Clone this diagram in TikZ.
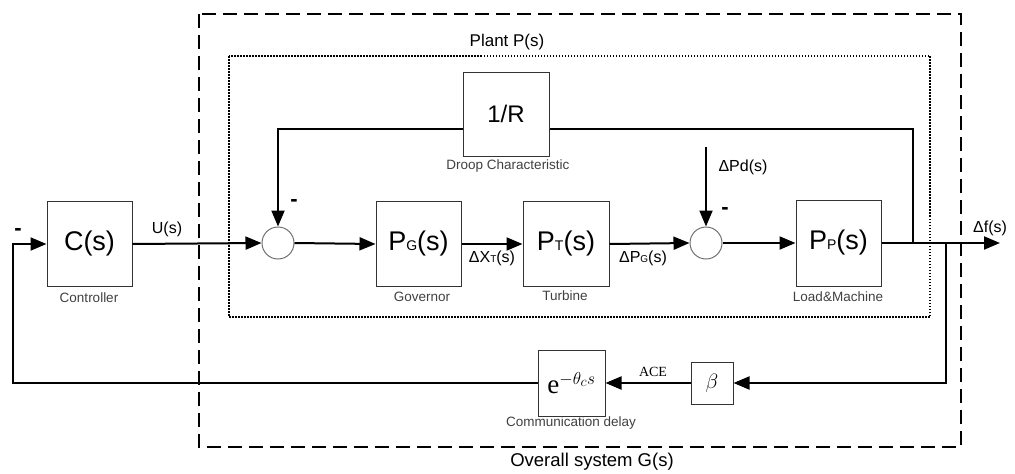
\documentclass[tikz,border=0pt]{standalone}
\usepackage{fontspec}
\usepackage{tikz}
\setmainfont{Liberation Sans}
\newfontfamily\tnr{Liberation Serif}
\usetikzlibrary{arrows.meta}
\definecolor{CBorder}{HTML}{333333}
\definecolor{CSum}{HTML}{707070}
\definecolor{CCapt}{HTML}{404040}
\newcommand\bigsub[1]{{\fontsize{14}{15}\selectfont #1}}
\newcommand\smallsub[1]{{\fontsize{10}{11}\selectfont #1}}

\begin{document}
\begin{tikzpicture}[inner sep=0pt,
  blk/.style={minimum height=85pt, minimum width=85pt, draw=CBorder, line width=1.0pt, shape=rectangle, font=\fontsize{27}{29}\selectfont},
  sumnode/.style={shape=circle, minimum size=32pt, draw=CSum, line width=1.0pt},
  lbl/.style={font=\fontsize{16}{18}\selectfont},
  minus/.style={font=\bfseries\fontsize{22}{24}\selectfont},
  capt/.style={font=\fontsize{13.5}{15}\selectfont, text=CCapt},
  wire/.style={line width=2.0pt},
  sig/.style={wire, -{Triangle[length=16pt,width=13pt]}}]
\useasboundingbox (0pt,0pt) rectangle (1015pt,-474pt);

% frames
\path [line width=2.0pt, dash pattern=on 14pt off 7pt, draw] (199pt,-14pt) rectangle (961pt,-447pt);
\path [line width=1.5pt, dash pattern=on 1.5pt off 1.5pt, draw] (229pt,-56pt) rectangle (930pt,-317pt);
\node (plant) [at={(507pt,-42pt)}, font=\fontsize{17}{19}\selectfont] {Plant P(s)};
\node (overall) [at={(592pt,-462pt)}, font=\fontsize{18.5}{20}\selectfont] {Overall system G(s)};

% blocks
\node (ctrl) [blk, at={(89.5pt,-244pt)}] {C(s)};
\node (gov) [blk, at={(418.5pt,-244pt)}] {P\bigsub{G}(s)};
\node (turb) [blk, minimum width=86pt, at={(566pt,-244pt)}] {P\bigsub{T}(s)};
\node (load) [blk, minimum height=86pt, at={(838.5pt,-243pt)}] {P\bigsub{P}(s)};
\node (droop) [blk, minimum width=86pt, minimum height=84pt, at={(506pt,-114pt)}, font=\fontsize{24}{26}\selectfont] {1/R};
\node (delay) [blk, minimum width=67pt, minimum height=66pt, at={(571.5pt,-383pt)}, font=\fontsize{27}{29}\tnr] {e$^{-\theta_{c} s}$};
\node (beta) [blk, minimum width=42pt, minimum height=42pt, at={(712pt,-383pt)}, font=\fontsize{22}{24}\selectfont] {$\beta$};
\node (sum1) [sumnode, at={(278pt,-243pt)}] {};
\node (sum2) [sumnode, at={(706pt,-243pt)}] {};

% captions
\node (cctrl) [capt, at={(89pt,-298pt)}] {Controller};
\node (cgov) [capt, at={(422pt,-297pt)}] {Governor};
\node (cturb) [capt, at={(565pt,-296pt)}] {Turbine};
\node (cload) [capt, at={(838pt,-297pt)}] {Load\&Machine};
\node (cdroop) [capt, at={(508pt,-166pt)}] {Droop Characteristic};
\node (cdelay) [capt, at={(571pt,-423pt)}] {Communication delay};

% signal labels
\node (lu) [lbl, at={(167pt,-229pt)}] {U(s)};
\node (lxt) [lbl, at={(492pt,-258pt)}] {ΔX\smallsub{T}(s)};
\node (lpg) [lbl, at={(643pt,-258pt)}] {ΔP\smallsub{G}(s)};
\node (lpd) [lbl, at={(743pt,-167pt)}] {ΔPd(s)};
\node (lf) [lbl, at={(990pt,-228pt)}] {Δf(s)};
\node (lace) [at={(653pt,-372pt)}, font=\fontsize{14}{15}\tnr] {ACE};
\node (m0) [minus, at={(18pt,-232pt)}] {-};
\node (m1) [minus, at={(294pt,-203pt)}] {-};
\node (m2) [minus, at={(725pt,-211pt)}] {-};

% free ends and corners
\coordinate (c0) at (13pt,-383pt);
\coordinate (r1) at (913pt,-129pt);
\coordinate (r2) at (278pt,-129pt);
\coordinate (b1) at (913pt,-243pt);
\coordinate (b2) at (946pt,-243pt);
\coordinate (d0) at (706pt,-147pt);
\coordinate (out) at (1000pt,-243pt);

% connectors
\path [sig, draw] (ctrl.east) -- (sum1.west);
\path [sig, draw] (sum1.east) -- (gov.west);
\path [sig, draw] (gov.east) -- (turb.west);
\path [sig, draw] (turb.east) -- (sum2.west);
\path [sig, draw] (sum2.east) -- (load.west);
\path [sig, draw] (load.east) -- (out);
\path [sig, draw] (d0) -- (sum2.north);
\path [wire, draw] (b1) -- (r1) -- (droop.east|-r1);
\path [sig, draw] (droop.west|-r1) -- (r2) -- (sum1.north);
\path [sig, draw] (b2) |- (beta.east);
\path [sig, draw] (beta.west) -- (delay.east);
\path [sig, draw] (delay.west) -- (c0) |- (ctrl.west);
\end{tikzpicture}
\end{document}
